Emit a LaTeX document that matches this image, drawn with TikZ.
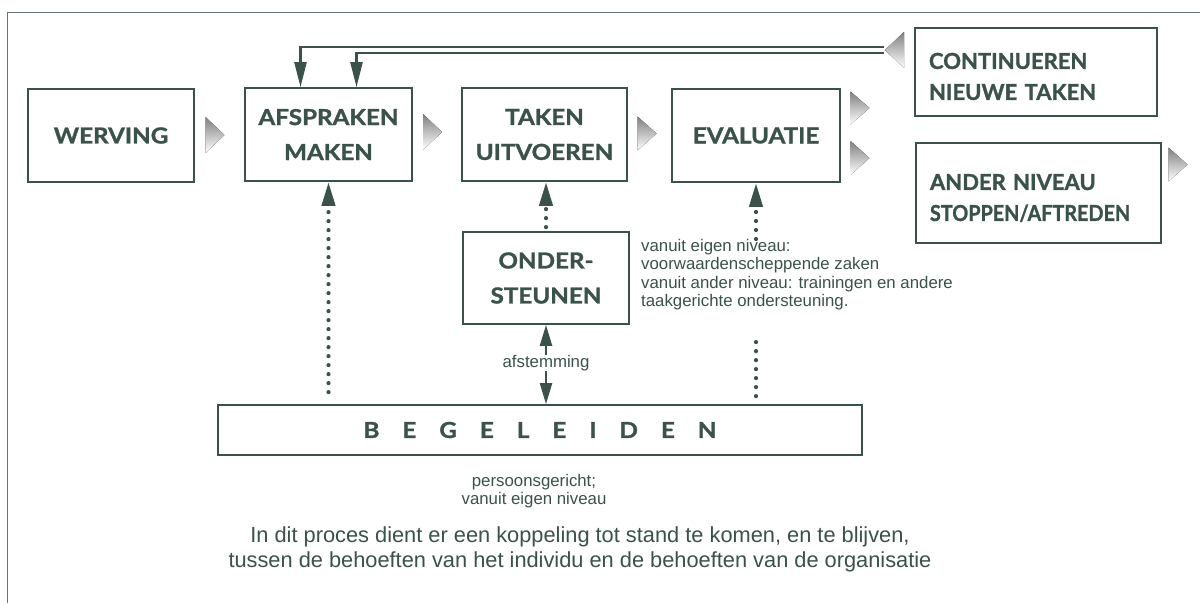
\documentclass[tikz,border=0pt]{standalone}
\usepackage{fontspec}
\setmainfont{Liberation Sans}
\newfontfamily\boxfont{Lato}[FakeStretch=1.1,FakeBold=1.3]
\newfontfamily\outfont{Lato}[FakeStretch=1.0,FakeBold=1.3]
\usetikzlibrary{arrows.meta,calc}

\definecolor{ink}{HTML}{3A5249}
\definecolor{shade}{HTML}{8C8C8C}
\definecolor{framecol}{HTML}{667570}

% right-pointing grey pointer: centre x, centre y, height
\newcommand{\rtri}[3]{\fill[shade] ({#1-9.5},{#2-#3/2}) -- ({#1+9.5},#2) -- ({#1-9.5},{#2+#3/2}) -- cycle;}

\begin{document}
\begin{tikzpicture}[x=1pt,y=-1pt,
  stage/.style={draw=ink, line width=1.8pt, text=ink, inner sep=0pt, align=center,
    font=\boxfont\bfseries\fontsize{22}{35}\selectfont},
  outcome/.style={stage, align=left, inner xsep=14pt, text width=214pt,
    font=\outfont\bfseries\fontsize{22}{31}\selectfont},
  note/.style={text=ink, inner sep=0pt, font=\fontsize{16.8}{18.5}\selectfont},
  dotline/.style={draw=ink, line width=4.2pt, line cap=round, dash pattern=on 0pt off 9pt},
  dotarrow/.style={dotline, -{Triangle[length=24pt,width=13pt]}},
  solidarrow/.style={draw=ink, line width=2.2pt, -{Triangle[length=21pt,width=12pt]}},
  feedback/.style={draw=ink, line width=2.4pt, -{Triangle[length=25pt,width=12pt]}}]

\useasboundingbox (0,0) rectangle (1200,603);
\fill[white] (0,0) rectangle (1200,603);

% open frame
\draw[framecol, line width=1.4pt] (7.5,603) -- (7.5,12.5) -- (1200,12.5);

% process stages
\node[stage, minimum width=166pt, minimum height=93pt] (werving) at (111,135.5) {WERVING};
\node[stage, minimum width=167pt, minimum height=93pt] (afspraken) at (328.5,134.5) {AFSPRAKEN\\MAKEN};
\node[stage, minimum width=165pt, minimum height=93pt] (taken) at (544.5,134.5) {TAKEN\\UITVOEREN};
\node[stage, minimum width=168pt, minimum height=93pt] (evaluatie) at (756,135.5) {EVALUATIE};
\node[stage, minimum width=166pt, minimum height=92pt] (onder) at (546,278) {ONDER-\\STEUNEN};
\node[outcome, minimum height=88pt] (continueren) at (1036,72) {\rule{0pt}{25pt}CONTINUEREN\\NIEUWE TAKEN};
\node[outcome, text width=217pt, minimum height=100pt] (ander) at (1038.5,193)
  {\rule{0pt}{26pt}ANDER NIVEAU\\\scalebox{0.9}[1]{STOPPEN/AFTREDEN}};
\node[stage, minimum width=644pt, minimum height=50pt] (begeleiden) at (540,430)
  {B\hspace{23pt}E\hspace{23pt}G\hspace{23pt}E\hspace{23pt}L\hspace{23pt}E\hspace{23pt}I\hspace{23pt}D\hspace{23pt}E\hspace{23pt}N};

% grey pointers between stages
\rtri{215}{135}{36}
\rtri{432.5}{132}{36}
\rtri{647}{133.5}{34}
\rtri{860}{108}{33}
\rtri{860}{158}{34}
\rtri{1178}{164.5}{34}
\fill[shade] (904,32) -- (885,50) -- (904,68) -- cycle;
\coordinate (fbtip) at (884,50);

% feedback from continuing back to agreements
\draw[feedback] ($(fbtip)+(0,-3)$) -| ($(afspraken.north)+(-28,0)$);
\draw[feedback] ($(fbtip)+(0,3)$) -| ($(afspraken.north)+(28,0)$);

% annotations
\node[note, anchor=north west, align=left] (support) at (641,239)
  {vanuit eigen niveau:\\voorwaardenscheppende zaken\\vanuit ander niveau: trainingen en andere\\taakgerichte ondersteuning.};
\node[note] (tuning) at (546,363) {afstemming};
\node[note, align=center] (focus) at (534,491) {persoonsgericht;\\vanuit eigen niveau};
\node[text=ink, inner sep=0pt, align=center, font=\fontsize{21.8}{25}\selectfont] (summary) at (580,549)
  {In dit proces dient er een koppeling tot stand te komen, en te blijven,\\tussen de behoeften van het individu en de behoeften van de organisatie};

% guidance and support links
\draw[dotarrow] ($(begeleiden.north -| afspraken.south)+(0,-12)$) -- (afspraken.south);
\draw[dotarrow] ($(onder.north)+(0,-4)$) -- (onder.north |- taken.south);
\draw[dotarrow] (support.north -| evaluatie.south) -- (evaluatie.south);
\draw[dotline] ($(begeleiden.north -| evaluatie.south)+(0,-8)$) -- ($(support.south -| evaluatie.south)+(0,24)$);
\draw[solidarrow] (tuning.north) -- (onder.south);
\draw[solidarrow] (tuning.south) -- (tuning.south |- begeleiden.north);
\end{tikzpicture}
\end{document}
